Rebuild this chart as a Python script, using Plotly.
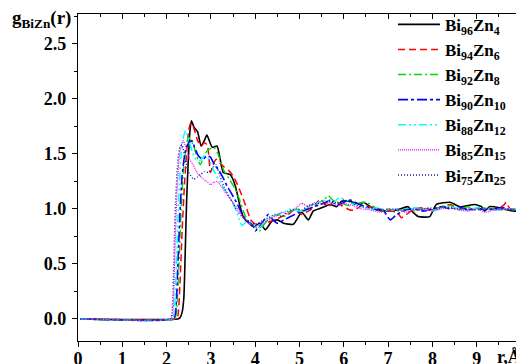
import plotly.graph_objects as go

# ---------------- data ----------------
r_96 = [0.05, 2.25, 2.30, 2.35, 2.39, 2.42, 2.45, 2.49, 2.53, 2.56, 2.62, 2.70, 2.78, 2.85, 2.91, 3.03, 3.14, 3.28,
        3.44, 3.55, 3.66, 3.73, 3.80, 3.96, 4.11, 4.23, 4.38, 4.50, 4.64, 4.86, 5.05, 5.20, 5.31, 5.50,
        5.69, 5.84, 5.95, 6.14, 6.37, 6.44, 6.60, 6.74, 6.97, 7.20, 7.45, 7.56, 7.68, 7.94, 8.09, 8.40, 8.62, 8.96,
        9.11, 9.18, 9.29, 9.52, 9.81, 10.0]
g_96 = [0, 0, 0.01, 0.06, 0.20, 0.60, 1.05, 1.45, 1.72, 1.80, 1.74, 1.70, 1.57, 1.62, 1.67, 1.56, 1.57, 1.33,
        1.31, 1.21, 1.02, 0.93, 0.89, 0.84, 0.87, 0.81, 0.89, 0.90, 0.87, 0.86, 0.97, 0.90, 0.98, 1.01,
        1.04, 1.02, 1.07, 1.07, 1.04, 1.06, 1.02, 0.99, 0.98, 0.99, 1.02, 0.97, 0.93, 0.93, 1.04, 1.06, 1.02, 1.04,
        1.02, 0.98, 1.02, 1.01, 0.98, 0.98]

r_94 = [0.05, 2.20, 2.25, 2.30, 2.35, 2.40, 2.45, 2.50, 2.55, 2.61, 2.70, 2.78, 2.85, 2.92, 2.99, 3.05, 3.12, 3.20,
        3.30, 3.40, 3.50, 3.60, 3.73, 3.81, 3.90, 4.00, 4.10, 4.20, 4.30, 4.45, 4.60, 4.75, 4.90, 5.05, 5.20, 5.35,
        5.46, 5.65, 5.80, 5.95, 6.14, 6.25, 6.40, 6.60, 6.80, 7.00, 7.20, 7.30, 7.45, 7.60, 7.80, 8.00, 8.20, 8.40,
        8.60, 8.80, 9.00, 9.20, 9.40, 9.60, 9.67, 9.75, 10.0]
g_94 = [0, 0, 0.02, 0.30, 0.80, 1.20, 1.50, 1.72, 1.78, 1.74, 1.62, 1.57, 1.60, 1.58, 1.33, 1.40, 1.45, 1.42,
        1.38, 1.35, 1.30, 1.22, 1.09, 1.00, 0.90, 0.86, 0.83, 0.86, 0.88, 0.90, 0.93, 0.95, 1.00, 0.95, 0.98, 1.02,
        1.09, 1.02, 1.08, 1.03, 0.99, 0.99, 1.03, 1.02, 1.00, 0.98, 0.97, 0.92, 0.96, 1.00, 1.01, 0.99, 1.02, 1.04,
        1.00, 1.00, 0.99, 1.00, 1.00, 1.03, 1.06, 1.00, 0.99]

r_92 = [0.05, 2.18, 2.22, 2.28, 2.33, 2.38, 2.45, 2.50, 2.61, 2.68, 2.76, 2.84, 2.92, 3.00, 3.06, 3.16, 3.28, 3.40,
        3.55, 3.66, 3.75, 3.82, 3.90, 4.00, 4.10, 4.20, 4.35, 4.50, 4.65, 4.80, 4.95, 5.10, 5.25, 5.40, 5.55, 5.65,
        5.80, 5.95, 6.10, 6.30, 6.50, 6.65, 6.80, 7.00, 7.20, 7.40, 7.60, 7.80, 8.00, 8.20, 8.40, 8.60, 8.80, 9.00,
        9.20, 9.40, 9.60, 9.80, 10.0]
g_92 = [0, 0, 0.05, 0.50, 1.00, 1.35, 1.58, 1.65, 1.57, 1.48, 1.40, 1.48, 1.53, 1.55, 1.56, 1.50, 1.36, 1.28,
        1.18, 1.07, 0.96, 0.90, 0.87, 0.84, 0.80, 0.86, 0.92, 0.95, 0.93, 0.98, 1.00, 0.98, 1.03, 1.05, 1.08, 1.12,
        1.06, 1.05, 1.03, 1.05, 1.06, 1.03, 0.98, 1.00, 0.98, 1.00, 0.98, 1.00, 0.99, 1.02, 1.03, 0.99, 1.02, 0.99,
        1.01, 1.00, 0.99, 1.00, 0.99]

r_90 = [0.05, 2.15, 2.20, 2.25, 2.30, 2.35, 2.42, 2.50, 2.57, 2.64, 2.72, 2.82, 2.90, 2.99, 3.08, 3.18, 3.28, 3.36,
        3.45, 3.55, 3.65, 3.75, 3.85, 3.95, 4.00, 4.10, 4.20, 4.30, 4.40, 4.50, 4.65, 4.80, 5.00, 5.20, 5.40, 5.55,
        5.70, 5.85, 6.00, 6.15, 6.30, 6.50, 6.70, 6.90, 7.05, 7.20, 7.40, 7.60, 7.80, 8.00, 8.20, 8.40, 8.60, 8.80,
        9.00, 9.20, 9.40, 9.60, 9.80, 10.0]
g_90 = [0, 0, 0.05, 0.45, 0.95, 1.30, 1.52, 1.60, 1.62, 1.55, 1.48, 1.45, 1.48, 1.47, 1.40, 1.35, 1.28, 1.21,
        1.15, 1.08, 1.00, 0.92, 0.88, 0.85, 0.80, 0.84, 0.90, 0.95, 0.90, 0.87, 0.90, 0.93, 0.97, 1.00, 1.03, 1.05,
        1.08, 1.03, 1.06, 1.08, 1.05, 1.02, 1.00, 0.98, 0.90, 0.95, 0.99, 1.00, 0.98, 1.00, 1.02, 1.00, 1.02, 0.99,
        1.01, 0.99, 1.00, 1.01, 0.99, 0.99]

r_88 = [0.05, 2.12, 2.17, 2.22, 2.27, 2.32, 2.38, 2.43, 2.50, 2.58, 2.66, 2.75, 2.87, 2.95, 3.03, 3.10, 3.20, 3.30,
        3.40, 3.50, 3.60, 3.70, 3.80, 3.90, 4.00, 4.10, 4.20, 4.35, 4.50, 4.65, 4.80, 5.00, 5.20, 5.40, 5.60, 5.75,
        5.90, 6.05, 6.20, 6.40, 6.60, 6.80, 7.00, 7.20, 7.40, 7.60, 7.80, 8.00, 8.20, 8.40, 8.60, 8.80, 9.00, 9.20,
        9.40, 9.60, 9.80, 10.0]
g_88 = [0, 0, 0.05, 0.50, 1.05, 1.45, 1.65, 1.71, 1.62, 1.52, 1.45, 1.44, 1.48, 1.45, 1.38, 1.32, 1.25, 1.18,
        1.12, 1.05, 0.95, 0.85, 0.88, 0.86, 0.85, 0.83, 0.88, 0.92, 0.95, 0.97, 1.00, 0.98, 1.02, 1.05, 1.08, 1.05,
        1.10, 1.08, 1.05, 1.02, 1.00, 1.01, 0.98, 1.00, 0.98, 1.01, 1.00, 0.98, 1.01, 1.02, 1.00, 0.99, 1.01, 1.00,
        0.99, 1.00, 1.00, 0.99]

r_85 = [0.05, 2.10, 2.14, 2.18, 2.23, 2.28, 2.33, 2.38, 2.44, 2.52, 2.60, 2.69, 2.80, 2.90, 2.99, 3.06, 3.14, 3.24,
        3.34, 3.44, 3.53, 3.62, 3.70, 3.80, 3.90, 4.00, 4.15, 4.30, 4.45, 4.60, 4.75, 4.90, 5.05, 5.20, 5.35, 5.50,
        5.70, 5.85, 6.00, 6.20, 6.40, 6.60, 6.80, 7.00, 7.20, 7.40, 7.60, 7.80, 8.00, 8.20, 8.40, 8.60, 8.80, 9.00,
        9.20, 9.40, 9.60, 9.80, 10.0]
g_85 = [0, 0, 0.05, 0.50, 1.10, 1.45, 1.58, 1.62, 1.55, 1.45, 1.40, 1.33, 1.28, 1.25, 1.22, 1.24, 1.25, 1.20,
        1.14, 1.09, 1.04, 0.99, 0.94, 0.89, 0.86, 0.84, 0.87, 0.90, 0.93, 0.97, 0.95, 1.00, 1.05, 1.02, 1.06, 1.04,
        1.06, 1.03, 1.05, 1.03, 1.00, 0.99, 0.97, 0.98, 1.00, 0.97, 0.99, 1.00, 0.98, 1.00, 1.01, 0.99, 0.98, 1.00,
        0.97, 0.99, 1.00, 0.99, 0.98]

r_75 = [0.05, 2.08, 2.12, 2.16, 2.20, 2.25, 2.30, 2.35, 2.42, 2.50, 2.61, 2.70, 2.76, 2.87, 2.95, 3.05, 3.12, 3.20,
        3.30, 3.40, 3.50, 3.60, 3.70, 3.80, 3.90, 4.00, 4.15, 4.30, 4.45, 4.60, 4.75, 4.90, 5.05, 5.20, 5.40, 5.55,
        5.70, 5.85, 6.00, 6.15, 6.30, 6.50, 6.70, 6.90, 7.10, 7.30, 7.50, 7.70, 7.90, 8.10, 8.30, 8.50, 8.70, 8.90,
        9.10, 9.30, 9.50, 9.70, 10.0]
g_75 = [0, 0, 0.05, 0.50, 1.05, 1.42, 1.56, 1.58, 1.45, 1.33, 1.27, 1.29, 1.31, 1.34, 1.33, 1.38, 1.40, 1.30,
        1.20, 1.12, 1.05, 0.98, 0.93, 0.90, 0.88, 0.86, 0.89, 0.92, 0.95, 0.93, 0.98, 1.00, 0.99, 1.03, 1.05, 1.04,
        1.07, 1.05, 1.08, 1.06, 1.03, 1.01, 1.00, 0.99, 1.00, 0.98, 1.00, 0.99, 1.01, 1.00, 1.02, 1.00, 1.00, 0.99,
        1.00, 1.00, 0.99, 1.00, 0.99]

names = ["Bi<sub>96</sub>Zn<sub>4</sub>", "Bi<sub>94</sub>Zn<sub>6</sub>", "Bi<sub>92</sub>Zn<sub>8</sub>",
         "Bi<sub>90</sub>Zn<sub>10</sub>", "Bi<sub>88</sub>Zn<sub>12</sub>", "Bi<sub>85</sub>Zn<sub>15</sub>",
         "Bi<sub>75</sub>Zn<sub>25</sub>"]
x_ticks = [0, 1, 2, 3, 4, 5, 6, 7, 8, 9]
y_ticks = [0.0, 0.5, 1.0, 1.5, 2.0, 2.5]

# ---------------- styles ----------------
series = [(r_96, g_96), (r_94, g_94), (r_92, g_92), (r_90, g_90), (r_88, g_88), (r_85, g_85), (r_75, g_75)]
colors = ["#000000", "#FF0000", "#00DD00", "#0000FF", "#00FFFF", "#FF00FF", "#1A1AA0"]
dashes = ["solid", "7px,4px", "8px,3px,2px,3px", "10px,3px,3px,3px", "8px,3px,2px,3px,2px,3px", "1px,1px", "1px,2px"]
widths = [1.6, 1.5, 1.4, 1.6, 1.5, 1.2, 1.4]

FONT = "Liberation Serif"

fig = go.Figure()
for (rx, gy), nm, c, d, w in zip(series, names, colors, dashes, widths):
    fig.add_trace(go.Scatter(x=rx, y=gy, mode="lines", name=nm,
                             line=dict(color=c, dash=d, width=w, shape="spline", smoothing=0.5)))

# helper trace for mirrored (inside) ticks on top/right
fig.add_trace(go.Scatter(x=[], y=[], xaxis="x2", yaxis="y2", showlegend=False, hoverinfo="skip"))

axis_common = dict(tickwidth=1.2, tickcolor="black", showline=True, linecolor="black", linewidth=1.2,
                   showgrid=False, zeroline=False)

fig.update_layout(
    width=516, height=356,
    margin=dict(l=70, r=3, t=6, b=23, autoexpand=False),
    paper_bgcolor="white", plot_bgcolor="white",
    font=dict(family=FONT, size=17, color="black", weight="bold"),
    showlegend=True,
    legend=dict(x=0.711, y=1.022, xanchor="left", yanchor="top", bgcolor="rgba(0,0,0,0)",
                font=dict(family=FONT, size=17, color="black", weight="bold"),
                itemwidth=42, tracegroupgap=0, maxheight=320),
    xaxis=dict(range=[0, 10], tickvals=x_ticks, ticktext=[str(v) for v in x_ticks],
               ticks="outside", ticklen=5, ticklabelstandoff=-4,
               tickfont=dict(family=FONT, size=18, color="black", weight="bold"),
               minor=dict(dtick=0.5, tick0=0, ticks="outside", ticklen=3, tickcolor="black", tickwidth=1.2),
               **axis_common),
    yaxis=dict(range=[-0.2, 2.77], tickvals=y_ticks, ticktext=["%.1f" % v for v in y_ticks],
               ticks="outside", ticklen=5, ticklabelstandoff=2,
               tickfont=dict(family=FONT, size=18, color="black", weight="bold"),
               minor=dict(dtick=0.25, tick0=0, ticks="outside", ticklen=3, tickcolor="black", tickwidth=1.2),
               **axis_common),
    xaxis2=dict(overlaying="x", side="top", range=[0, 10], tickvals=x_ticks, showticklabels=False,
                ticks="inside", ticklen=5,
                minor=dict(dtick=0.5, tick0=0, ticks="inside", ticklen=3, tickcolor="black", tickwidth=1.2),
                **axis_common),
    yaxis2=dict(overlaying="y", side="right", range=[-0.2, 2.77], tickvals=y_ticks, showticklabels=False,
                ticks="inside", ticklen=5,
                minor=dict(dtick=0.25, tick0=0, ticks="inside", ticklen=3, tickcolor="black", tickwidth=1.2),
                **axis_common),
    annotations=[
        dict(text="g<sub>BiZn</sub>(r)", xref="paper", yref="paper", x=-0.012, y=0.985,
             xanchor="right", yanchor="middle", showarrow=False,
             font=dict(family=FONT, size=19, color="black", weight="bold")),
        dict(text="r,Å", xref="x", yref="paper", x=9.72, y=-0.05, xanchor="center", yanchor="middle",
             showarrow=False, font=dict(family=FONT, size=18, color="black", weight="bold")),
    ],
)

fig.write_html("out.html")
